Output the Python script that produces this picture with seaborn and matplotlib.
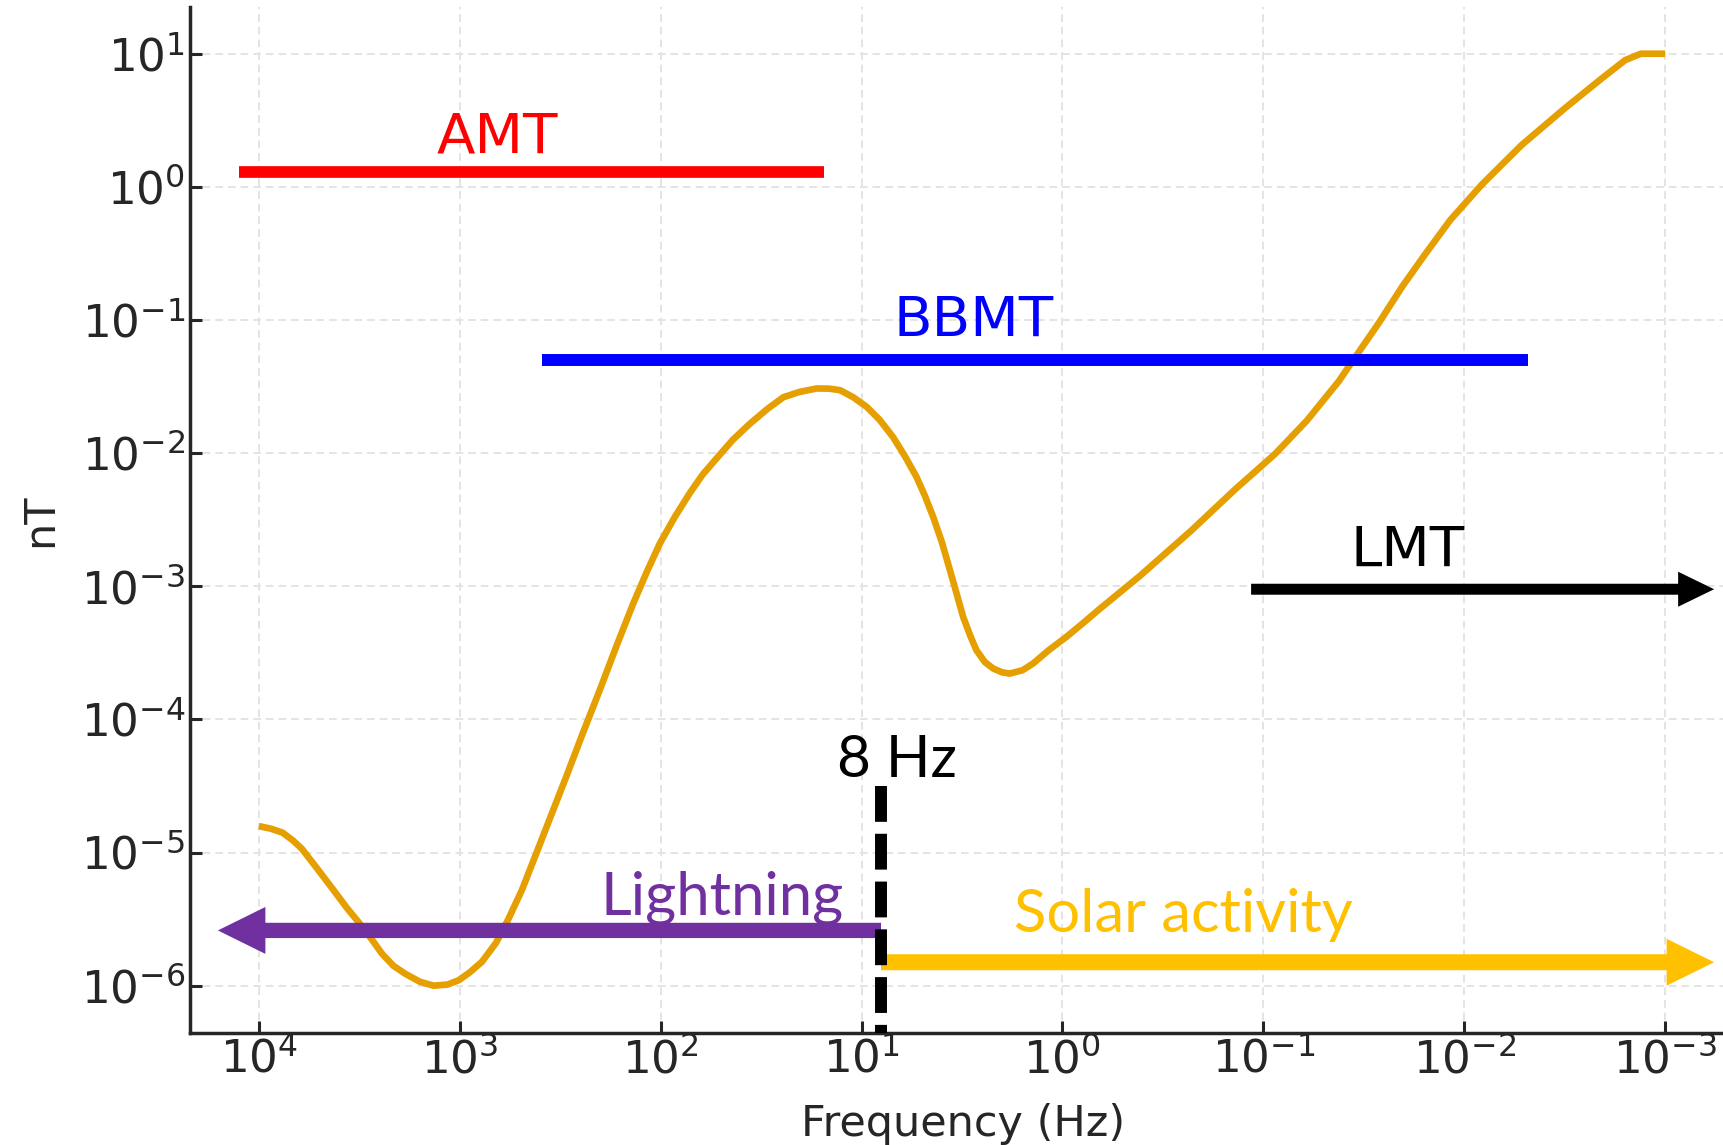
import matplotlib
matplotlib.use("Agg")
import matplotlib.pyplot as plt
from matplotlib.patches import FancyArrowPatch, ArrowStyle
from matplotlib.ticker import NullLocator
import pandas as pd
import seaborn as sns

# Natural magnetic field amplitude spectrum
freq_hz = [10000, 8710, 7620, 6760, 6120, 5130, 4310, 3630, 3160, 2750,
           2440, 2140, 1870, 1580, 1350, 1150, 1010, 891, 776, 661,
           573, 490, 422, 355, 295, 245, 201, 166, 137, 117,
           101, 85.1, 71.6, 61.7, 52.7, 43.7, 36.0, 29.5, 24.5, 20.4,
           16.7, 14.5, 12.8, 11.0, 9.44, 8.13, 6.97, 6.10, 5.33, 4.84,
           4.40, 3.98, 3.63, 3.37, 3.12, 2.88, 2.68, 2.43, 2.21, 2.00,
           1.83, 1.58, 1.40, 1.17, 0.955, 0.794, 0.652, 0.413, 0.229, 0.138,
           0.0875, 0.0608, 0.0422, 0.0336, 0.0267, 0.0203, 0.0155, 0.0117, 0.00817, 0.00518,
           0.00313, 0.00208, 0.00158, 0.00132, 0.001]
field_nt = [1.58e-5, 1.51e-5, 1.41e-5, 1.23e-5, 1.07e-5, 7.59e-6, 5.37e-6, 3.80e-6, 2.95e-6, 2.24e-6,
            1.74e-6, 1.41e-6, 1.23e-6, 1.07e-6, 1.0e-6, 1.02e-6, 1.10e-6, 1.26e-6, 1.51e-6, 2.09e-6,
            3.16e-6, 5.25e-6, 9.33e-6, 1.82e-5, 3.72e-5, 7.76e-5, 1.66e-4, 3.55e-4, 7.41e-4, 1.29e-3,
            2.09e-3, 3.31e-3, 5.01e-3, 6.92e-3, 9.12e-3, 1.26e-2, 1.66e-2, 2.14e-2, 2.63e-2, 2.88e-2,
            3.06e-2, 3.05e-2, 2.97e-2, 2.63e-2, 2.23e-2, 1.78e-2, 1.32e-2, 9.55e-3, 6.64e-3, 4.79e-3,
            3.32e-3, 2.14e-3, 1.32e-3, 8.91e-4, 5.89e-4, 4.27e-4, 3.31e-4, 2.69e-4, 2.41e-4, 2.26e-4,
            2.21e-4, 2.34e-4, 2.63e-4, 3.31e-4, 4.17e-4, 5.25e-4, 6.76e-4, 1.19e-3, 2.61e-3, 5.35e-3,
            9.84e-3, 1.75e-2, 3.45e-2, 5.70e-2, 9.42e-2, 0.179, 0.318, 0.566, 1.04, 2.06,
            3.93, 6.47, 8.95, 10.0, 10.0]

# Method bands (frequency span in Hz, drawing level in nT)
amt_span = (12500, 15.3)
amt_level = 1.3
bbmt_span = (390, 0.0048)
bbmt_level = 0.05
lmt_span = (0.115, 5.7e-4)
lmt_level = 9.5e-4

# Source regimes split at the cutoff frequency
cutoff_hz = 8
lightning_span = (cutoff_hz, 16000)
lightning_level = 2.6e-6
solar_span = (cutoff_hz, 5.7e-4)
solar_level = 1.5e-6

x_ticks = [1e4, 1e3, 1e2, 1e1, 1e0, 1e-1, 1e-2, 1e-3]
y_ticks = [1e-6, 1e-5, 1e-4, 1e-3, 1e-2, 1e-1, 1e0, 1e1]

sns.set_theme(style="ticks", rc={
    "xtick.direction": "in", "ytick.direction": "in",
    "xtick.major.size": 8.6, "ytick.major.size": 8.6,
    "xtick.major.width": 2.2, "ytick.major.width": 2.2,
    "xtick.major.pad": 3.5, "ytick.major.pad": 3.5,
    "axes.linewidth": 2.5, "axes.edgecolor": "#262626",
    "xtick.color": "#262626", "ytick.color": "#262626",
    "axes.labelcolor": "#262626",
    "xtick.labelsize": 32.5, "ytick.labelsize": 32.5,
    "axes.labelsize": 31,
})
plt.rcParams["font.family"] = ["DejaVu Sans"]
plt.rcParams["mathtext.fontset"] = "dejavusans"

fig = plt.figure(figsize=(17.24, 11.45), dpi=100)
ax = fig.add_axes([0.1102, 0.0981, 0.8964, 0.8958])
ax.set_xscale("log")
ax.set_yscale("log")

spectrum = pd.DataFrame({"freq": freq_hz, "field": field_nt})
sns.lineplot(data=spectrum, x="freq", y="field", ax=ax, color="#e69f00",
             linewidth=4.8, sort=False, estimator=None, zorder=3,
             solid_capstyle="butt", solid_joinstyle="round")

ax.set_xlim(10 ** 4.343, 10 ** -3.35)
ax.set_ylim(10 ** -6.353, 10 ** 1.351)
ax.set_xticks(x_ticks)
ax.set_yticks(y_ticks)
ax.xaxis.set_minor_locator(NullLocator())
ax.yaxis.set_minor_locator(NullLocator())
ax.grid(True, which="major", color="#e4e4e4", linewidth=1.4, linestyle=(0, (4, 2.5)))
ax.set_axisbelow(True)
sns.despine(ax=ax)
ax.set_xlabel("Frequency (Hz)", labelpad=15)
ax.set_ylabel("nT", labelpad=14)

# Method bars
ax.plot(amt_span, [amt_level] * 2, color="#ff0000", lw=8.4, solid_capstyle="butt", zorder=4)
ax.plot(bbmt_span, [bbmt_level] * 2, color="#0000ff", lw=8.6, solid_capstyle="butt", zorder=4)


def arrow(span, level, color, tail, head_w, head_l):
    style = ArrowStyle.Simple(head_length=head_l, head_width=head_w, tail_width=tail)
    patch = FancyArrowPatch((span[0], level), (span[1], level), arrowstyle=style,
                            mutation_scale=1, shrinkA=0, shrinkB=0,
                            color=color, lw=0, zorder=5, clip_on=False)
    ax.add_patch(patch)


arrow(lmt_span, lmt_level, "black", 7.9, 25.2, 25.9)
arrow(lightning_span, lightning_level, "#7030a0", 11.0, 33.8, 34.2)
arrow(solar_span, solar_level, "#ffc000", 11.5, 33.8, 34.2)

# Cutoff marker
ax.plot([cutoff_hz, cutoff_hz], [3.15e-5, 10 ** -6.4], color="black", lw=8.6,
        linestyle=(0, (3, 1)), dash_capstyle="butt", zorder=6)

text_font = ["DejaVu Sans"]
label_font = ["Lato", "DejaVu Sans"]
ax.text(653, 1.80, "AMT", color="#ff0000", fontsize=40.5, ha="center", va="baseline", family=text_font)
ax.text(2.76, 0.0757, "BBMT", color="#0000ff", fontsize=40.5, ha="center", va="baseline", family=text_font)
ax.text(0.0191, 1.42e-3, "LMT", color="black", fontsize=40.5, ha="center", va="baseline", family=text_font)
ax.text(6.67, 3.70e-5, f"{cutoff_hz} Hz", color="black", fontsize=42, ha="center", va="baseline", family=label_font)
ax.text(49.5, 3.40e-6, "Lightning", color="#7030a0", fontsize=43, ha="center", va="baseline", family=label_font)
ax.text(0.25, 2.52e-6, "Solar activity", color="#ffc000", fontsize=43, ha="center", va="baseline", family=label_font)

fig.savefig("out.png", dpi=100)
